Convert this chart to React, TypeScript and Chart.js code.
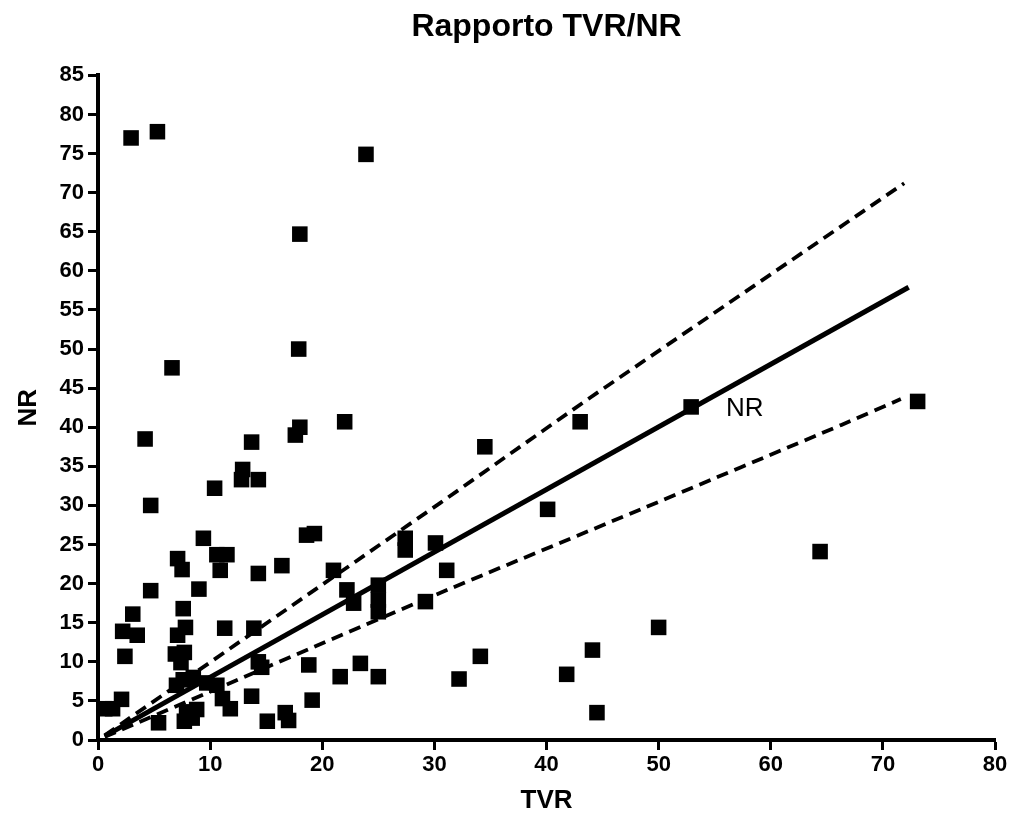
import React, { useEffect, useRef } from "react";
import { Chart, registerables } from "chart.js";

Chart.register(...registerables);

// Scatter data: TVR (x) vs NR (y)
const TVR = [
  2.95, 5.3, 23.9, 18.0, 17.9, 6.6, 4.2, 18.0, 17.6, 22.0, 13.7, 12.9, 12.8, 14.3, 10.4, 4.7,
  9.4, 7.1, 7.5, 10.6, 11.5, 10.9, 14.3, 16.4, 18.6, 19.3, 21.0, 27.4, 27.4, 30.1, 31.1, 22.2,
  22.8, 25.0, 25.0, 25.0, 29.2, 4.7, 9.0, 7.6, 3.1, 2.2, 3.5, 7.8, 7.1, 11.3, 13.9, 2.4,
  6.9, 7.7, 7.4, 14.3, 14.6, 18.8, 21.6, 23.4, 25.0, 7.6, 7.0, 8.5, 9.7, 10.6, 11.1, 11.8,
  13.7, 19.1, 7.9, 8.8, 7.7, 8.4, 5.4, 15.1, 16.7, 17.0, 0.6, 1.3, 2.1,
  34.5, 43.0, 40.1, 34.1, 32.2, 44.1, 41.8, 44.5, 50.0, 52.9, 64.4, 73.1,
];
const NR = [
  77.0, 77.8, 74.9, 64.7, 50.0, 47.6, 38.5, 40.0, 39.0, 40.7, 38.1, 34.6, 33.3, 33.3, 32.2, 30.0,
  25.8, 23.2, 21.8, 23.7, 23.7, 21.7, 21.3, 22.3, 26.2, 26.4, 21.7, 25.8, 24.3, 25.2, 21.7, 19.2,
  17.5, 19.8, 17.9, 16.4, 17.7, 19.1, 19.3, 16.8, 16.1, 13.9, 13.4, 14.4, 13.4, 14.3, 14.3, 10.7,
  11.0, 11.2, 9.9, 10.0, 9.3, 9.6, 8.1, 9.8, 8.1, 7.7, 7.0, 8.0, 7.3, 7.0, 5.3, 4.0,
  5.6, 5.1, 3.6, 3.9, 2.4, 2.8, 2.2, 2.4, 3.5, 2.5, 4.0, 4.0, 5.2,
  37.5, 40.7, 29.5, 10.7, 7.8, 11.5, 8.4, 3.5, 14.4, 42.6, 24.1, 43.3,
];

// Regression line and its confidence band
const FIT_X = [0.6, 72.3];
const FIT_Y = [0.5, 57.9];
const UPPER_X = [0.6, 30.5, 43.6, 71.9];
const UPPER_Y = [0.6, 30.3, 43.5, 71.2];
const LOWER_X = [0.6, 30.5, 48.4, 66.3, 71.6];
const LOWER_Y = [0.4, 18.8, 29.5, 40.3, 43.6];

const X_MIN = 0, X_MAX = 80, X_STEP = 10;
const Y_MIN = 0, Y_MAX = 85, Y_STEP = 5;

const TITLE = "Rapporto TVR/NR";
const X_TITLE = "TVR";
const Y_TITLE = "NR";
const LINE_LABEL = { text: "NR", x: 56.0, y: 42.3 };

const FONT = "'Liberation Sans', Arial, Helvetica, sans-serif";

const zip = (xs: number[], ys: number[]) => xs.map((x, i) => ({ x, y: ys[i] }));

export default function App() {
  const ref = useRef<HTMLCanvasElement | null>(null);

  useEffect(() => {
    if (!ref.current) return;
    const labelPlugin = {
      id: "lineLabel",
      afterDatasetsDraw(chart: any) {
        const { ctx, scales } = chart;
        ctx.save();
        ctx.font = `26px ${FONT}`;
        ctx.fillStyle = "#000";
        ctx.textAlign = "left";
        ctx.textBaseline = "middle";
        ctx.fillText(
          LINE_LABEL.text,
          scales.x.getPixelForValue(LINE_LABEL.x),
          scales.y.getPixelForValue(LINE_LABEL.y)
        );
        ctx.restore();
      },
    };
    const chart = new Chart(ref.current, {
      type: "scatter",
      data: {
        datasets: [
          {
            type: "line",
            data: zip(FIT_X, FIT_Y),
            borderColor: "#000",
            borderWidth: 5,
            pointRadius: 0,
            fill: false,
          },
          {
            type: "line",
            data: zip(UPPER_X, UPPER_Y),
            borderColor: "#000",
            borderWidth: 3.8,
            borderDash: [12, 7],
            pointRadius: 0,
            fill: false,
            tension: 0,
            clip: false,
          },
          {
            type: "line",
            data: zip(LOWER_X, LOWER_Y),
            borderColor: "#000",
            borderWidth: 3.8,
            borderDash: [12, 7],
            pointRadius: 0,
            fill: false,
            tension: 0.2,
            clip: false,
          },
          {
            type: "scatter",
            data: zip(TVR, NR),
            pointStyle: "rect",
            pointRadius: 11,
            pointBorderWidth: 0,
            backgroundColor: "#000",
            borderColor: "#000",
            clip: false,
          } as any,
        ],
      },
      options: {
        responsive: false,
        animation: false,
        layout: { padding: { left: 0, right: 22, top: 0, bottom: 0 } },
        plugins: {
          legend: { display: false },
          tooltip: { enabled: false },
          title: {
            display: true,
            fullSize: false,
            text: TITLE,
            color: "#000",
            font: { family: FONT, size: 32, weight: "bold" },
            padding: { top: 8, bottom: 29 },
          },
        },
        scales: {
          x: {
            type: "linear",
            min: X_MIN,
            max: X_MAX,
            ticks: {
              stepSize: X_STEP,
              color: "#000",
              padding: 2,
              font: { family: FONT, size: 22, weight: "bold" },
            },
            grid: {
              drawOnChartArea: false,
              drawTicks: true,
              tickLength: 10,
              tickWidth: 3,
              tickColor: "#000",
            },
            border: { display: true, color: "#000", width: 4 },
            title: {
              display: true,
              text: X_TITLE,
              color: "#000",
              font: { family: FONT, size: 26, weight: "bold" },
              padding: { top: 0, bottom: 11 },
            },
            afterFit(scale: any) {
              scale.height = 87;
            },
          },
          y: {
            type: "linear",
            min: Y_MIN,
            max: Y_MAX,
            ticks: {
              stepSize: Y_STEP,
              color: "#000",
              padding: 4,
              font: { family: FONT, size: 22, weight: "bold" },
            },
            grid: {
              drawOnChartArea: false,
              drawTicks: true,
              tickLength: 10,
              tickWidth: 3,
              tickColor: "#000",
            },
            border: { display: true, color: "#000", width: 4 },
            title: {
              display: true,
              text: Y_TITLE,
              color: "#000",
              font: { family: FONT, size: 26, weight: "bold" },
              padding: { top: 13, bottom: 0 },
            },
            afterFit(scale: any) {
              scale.width = 98;
            },
          },
        },
      } as any,
      plugins: [labelPlugin],
    });
    return () => chart.destroy();
  }, []);

  return (
    <div style={{ position: "absolute", left: 0, top: 0, width: 1017, height: 827, background: "#fff" }}>
      <canvas ref={ref} width={1017} height={827} />
    </div>
  );
}
